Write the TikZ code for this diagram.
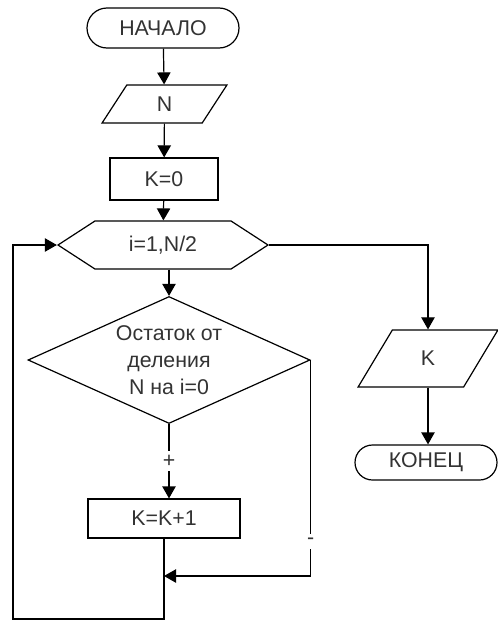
\documentclass[tikz,border=0pt]{standalone}
\usepackage{fontspec}
\setmainfont{Liberation Sans}
\usepackage{tikz}
\usetikzlibrary{calc,positioning,arrows.meta,shapes.geometric,shapes.misc,shapes.symbols}

\begin{document}
\begin{tikzpicture}[x=0.75pt, y=-0.75pt,
  every node/.style={font=\fontsize{16}{20}\selectfont, text=black!80, inner sep=0pt, line width=0.9pt},
  term/.style={draw, rounded rectangle},
  io/.style={draw, trapezium, trapezium stretches=true},
  proc/.style={draw, rectangle},
  loopbox/.style={draw, signal, signal from=nowhere, signal to=west and east, signal pointer angle=66},
  cond/.style={draw, diamond, shape aspect=2.22, align=center},
  flow/.style={line width=0.9pt, -{Triangle[length=9pt,width=10pt]}}]
  \useasboundingbox (0,0) rectangle (498,621);
  \node[term, minimum width=114pt, minimum height=30pt] (start) at (163,28) {НАЧАЛО};
  \node[io, trapezium left angle=71, trapezium right angle=109, minimum width=93.75pt, minimum height=28.5pt] (inN) at (164.5,104) {N};
  \node[proc, minimum width=81pt, minimum height=31.5pt] (setK) at (164,179) {K=0};
  \node[loopbox, minimum width=157.5pt, minimum height=36pt] (loop) at (163,245) {i=1,N/2};
  \node[cond, minimum width=211.5pt, minimum height=95.25pt] (test) at (169,360) {Остаток от\\деления\\N на i=0};
  \node[proc, minimum width=114pt, minimum height=29.25pt] (incK) at (164,518.5) {K=K+1};
  \node[io, trapezium left angle=65, trapezium right angle=115, minimum width=105pt, minimum height=42.75pt] (outK) at (428,358.5) {K};
  \node[term, minimum width=106.5pt, minimum height=26.25pt] (stop) at (426,462.5) {КОНЕЦ};
  \coordinate (join) at (164,576);
  \coordinate (back) at (13,619);
  \draw[flow] (start) -- (inN);
  \draw[flow] (inN) -- (setK);
  \draw[flow] (setK) -- (loop);
  \draw[flow] (test.north |- loop.south) -- (test.north);
  \draw[flow] (test.south) -- node[fill=white, inner sep=3pt]{+} (test.south |- incK.north);
  \draw[flow] (test.east) -- node[pos=0.84, fill=white, inner sep=3pt]{-} (test.east |- join) -- (join);
  \draw[flow] (incK.south) |- (back) |- (loop.west);
  \draw[flow] (loop.east) -| (outK.north);
  \draw[flow] (outK.south) -- (outK.south |- stop.north);
\end{tikzpicture}
\end{document}
